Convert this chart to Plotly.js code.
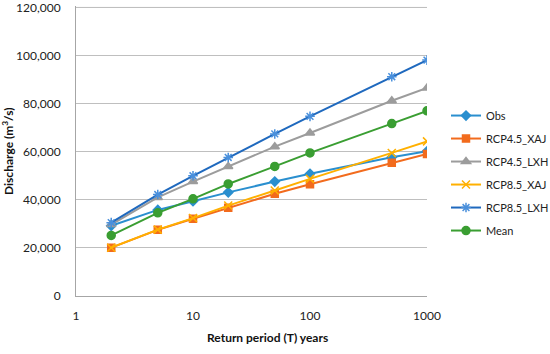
<!DOCTYPE html>
<html>
<head>
<meta charset="utf-8">
<script src="https://cdn.plot.ly/plotly-3.0.1.min.js"></script>
<style>html,body{margin:0;padding:0;background:#fff;}#chart{width:550px;height:354px;}</style>
</head>
<body>
<div id="chart"></div>
<script>
const returnPeriods = [2, 5, 10, 20, 50, 100, 500, 1000];
const obs        = [29200, 35800, 39400, 43100, 47600, 50800, 57700, 60200];
const rcp45XAJ   = [20100, 27500, 32100, 36700, 42500, 46500, 55400, 59100];
const rcp45LXH   = [29700, 41000, 47600, 53900, 62100, 67800, 81200, 86500];
const rcp85XAJ   = [20100, 27600, 32400, 37600, 43900, 48700, 59500, 64300];
const rcp85LXH   = [30500, 42200, 50000, 57600, 67400, 74700, 91200, 98100];
const meanVals   = [25200, 34600, 40400, 46600, 53900, 59500, 71700, 77000];
const seriesNames = ["Obs", "RCP4.5_XAJ", "RCP4.5_LXH", "RCP8.5_XAJ", "RCP8.5_LXH", "Mean"];
const yTickVals = [0, 20000, 40000, 60000, 80000, 100000, 120000];
const yTickText = ["0", "20,000", "40,000", "60,000", "80,000", "100,000", "120,000"];
const xTickVals = [1, 10, 100, 1000];
const xTickText = ["1", "10", "100", "1000"];

const FONT = "Lato, 'Open Sans', sans-serif";
const GRID = "#BFBFBF";
const styles = [
  {color: "#2A8FCF", symbol: "diamond", size: 7, mcolor: "#2A8FCF"},
  {color: "#F26B1D", symbol: "square", size: 7, mcolor: "#F26B1D"},
  {color: "#9C9C9C", symbol: "triangle-up", size: 8, mcolor: "#9C9C9C"},
  {color: "#FFB000", symbol: "x-thin-open", size: 8, mcolor: "#FFB000"},
  {color: "#1F69BE", symbol: "asterisk-open", size: 8, mcolor: "#4A90DC"},
  {color: "#3A9E32", symbol: "circle", size: 8, mcolor: "#3A9E32"}
];
const values = [obs, rcp45XAJ, rcp45LXH, rcp85XAJ, rcp85LXH, meanVals];

const traces = values.map((v, i) => ({
  x: returnPeriods,
  y: v,
  name: seriesNames[i],
  legendgroup: "g" + i,
  type: "scatter",
  mode: "lines+markers",
  line: {color: styles[i].color, width: 2},
  marker: {symbol: styles[i].symbol, size: styles[i].size, color: styles[i].mcolor,
           line: {color: styles[i].mcolor, width: 1.5}}
}));

const topTick = yTickVals[yTickVals.length - 1];

const layout = {
  width: 550, height: 354,
  margin: {l: 76, r: 123, t: 6, b: 58, autoexpand: false},
  paper_bgcolor: "#fff", plot_bgcolor: "#fff",
  font: {family: FONT, size: 12, color: "#222"},
  showlegend: true,
  legend: {
    x: (446 - 76) / 351, xanchor: "left", y: 0.424, yanchor: "middle",
    traceorder: "grouped", tracegroupgap: 4,
    font: {family: FONT, size: 11, color: "#222"},
    itemwidth: 30, bgcolor: "rgba(0,0,0,0)"
  },
  xaxis: {
    type: "log", range: [0, 3],
    tickvals: xTickVals, ticktext: xTickText,
    showgrid: false, zeroline: false,
    showline: true, linecolor: "#A6A6A6", linewidth: 1,
    ticks: "", ticklabelstandoff: 9,
    tickfont: {family: FONT, size: 12, color: "#222"}
  },
  yaxis: {
    range: [0, 120600],
    tickvals: yTickVals, ticktext: yTickText,
    showgrid: true, gridcolor: GRID, gridwidth: 1,
    zeroline: false, showline: true, linecolor: "#A6A6A6", linewidth: 1,
    ticks: "", ticklabelstandoff: 12, ticklabeloverflow: "allow",
    tickfont: {family: FONT, size: 12, color: "#222"}
  },
  shapes: [
    {type: "line", xref: "paper", yref: "y", x0: 0, x1: 1, y0: topTick, y1: topTick,
     line: {color: GRID, width: 1}, layer: "below"}
  ],
  annotations: [
    {text: "<b>Return period (T) years</b>", xref: "paper", yref: "paper",
     x: (267 - 76) / 351, y: -41 / 290, xanchor: "center", yanchor: "middle",
     showarrow: false, font: {family: FONT, size: 12, color: "#111"}},
    {text: "<b>Discharge (m<sup>3</sup>/s)</b>", xref: "paper", yref: "paper",
     x: (8 - 76) / 351, y: 0.5, xanchor: "center", yanchor: "middle", textangle: -90,
     showarrow: false, font: {family: FONT, size: 12, color: "#111"}}
  ]
};

Plotly.newPlot("chart", traces, layout, {displayModeBar: false, staticPlot: true});
</script>
</body>
</html>
